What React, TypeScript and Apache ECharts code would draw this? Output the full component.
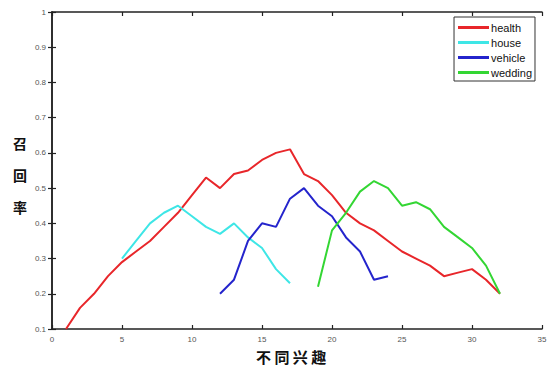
import React, { useEffect, useRef } from "react";
import * as echarts from "echarts";

const seriesNames = ["health", "house", "vehicle", "wedding"];
const seriesColors = ["#e8262a", "#3ee6e6", "#2424cc", "#33d633"];

const healthX = [1, 2, 3, 4, 5, 6, 7, 8, 9, 10, 11, 12, 13, 14, 15, 16, 17, 18, 19, 20, 21, 22, 23, 24, 25, 26, 27, 28, 29, 30, 31, 32];
const healthY = [0.1, 0.16, 0.2, 0.25, 0.29, 0.32, 0.35, 0.39, 0.43, 0.48, 0.53, 0.5, 0.54, 0.55, 0.58, 0.6, 0.61, 0.54, 0.52, 0.48, 0.43, 0.4, 0.38, 0.35, 0.32, 0.3, 0.28, 0.25, 0.26, 0.27, 0.24, 0.2];

const houseX = [5, 6, 7, 8, 9, 10, 11, 12, 13, 14, 15, 16, 17];
const houseY = [0.3, 0.35, 0.4, 0.43, 0.45, 0.42, 0.39, 0.37, 0.4, 0.36, 0.33, 0.27, 0.23];

const vehicleX = [12, 13, 14, 15, 16, 17, 18, 19, 20, 21, 22, 23, 24];
const vehicleY = [0.2, 0.24, 0.35, 0.4, 0.39, 0.47, 0.5, 0.45, 0.42, 0.36, 0.32, 0.24, 0.25];

const weddingX = [19, 20, 21, 22, 23, 24, 25, 26, 27, 28, 29, 30, 31, 32];
const weddingY = [0.22, 0.38, 0.43, 0.49, 0.52, 0.5, 0.45, 0.46, 0.44, 0.39, 0.36, 0.33, 0.28, 0.2];

const xTicks = { min: 0, max: 35, interval: 5 };
const yTicks = { min: 0.1, max: 1, interval: 0.1 };
const xAxisTitle = "不 同 兴 趣";
const yAxisTitle = ["召", "回", "率"];

function pairs(xs: number[], ys: number[]) {
  return xs.map((x, i) => [x, ys[i]]);
}

export default function App() {
  const ref = useRef<HTMLDivElement>(null);
  useEffect(() => {
    if (!ref.current) return;
    const chart = echarts.init(ref.current, undefined, { renderer: "svg" });
    const allX = [healthX, houseX, vehicleX, weddingX];
    const allY = [healthY, houseY, vehicleY, weddingY];
    const axisLine = { show: true, lineStyle: { color: "#222", width: 1.5 } };
    const tick = { show: true, inside: true, length: 4, lineStyle: { color: "#222", width: 1.2 } };
    const labelStyle = { color: "#555", fontSize: 8, fontFamily: "Arial, Liberation Sans, sans-serif" };
    chart.setOption({
      animation: false,
      backgroundColor: "#fff",
      grid: { left: 52, right: 8, top: 12, bottom: 38 },
      xAxis: [
        {
          type: "value",
          min: xTicks.min,
          max: xTicks.max,
          interval: xTicks.interval,
          axisLine,
          axisTick: tick,
          splitLine: { show: false },
          axisLabel: { ...labelStyle, margin: 6 },
        },
        {
          type: "value",
          position: "top",
          min: xTicks.min,
          max: xTicks.max,
          interval: xTicks.interval,
          axisLine,
          axisTick: tick,
          splitLine: { show: false },
          axisLabel: { show: false },
        },
      ],
      yAxis: [
        {
          type: "value",
          min: yTicks.min,
          max: yTicks.max,
          interval: yTicks.interval,
          axisLine,
          axisTick: tick,
          splitLine: { show: false },
          axisLabel: {
            ...labelStyle,
            margin: 6,
            formatter: (v: number) => String(Math.round(v * 10) / 10),
          },
        },
        {
          type: "value",
          position: "right",
          min: yTicks.min,
          max: yTicks.max,
          interval: yTicks.interval,
          axisLine,
          axisTick: tick,
          splitLine: { show: false },
          axisLabel: { show: false },
        },
      ],
      legend: {
        data: seriesNames,
        orient: "vertical",
        right: 15,
        top: 17,
        icon: "rect",
        itemWidth: 31,
        itemHeight: 3,
        itemGap: 4,
        padding: [5, 3, 3, 4],
        borderColor: "#333",
        borderWidth: 1,
        backgroundColor: "#fff",
        textStyle: { color: "#111", fontSize: 11, padding: [0, 0, 0, -3], fontFamily: "Liberation Sans Narrow, Arial, sans-serif" },
      },
      series: seriesNames.map((name, i) => ({
        name,
        type: "line",
        data: pairs(allX[i], allY[i]),
        symbol: "none",
        lineStyle: { color: seriesColors[i], width: 2 },
        itemStyle: { color: seriesColors[i] },
      })),
      graphic: [
        {
          type: "text",
          left: 256,
          top: 349,
          style: { text: xAxisTitle, fontSize: 15, fontWeight: "bold", fill: "#111", fontFamily: "Noto Sans CJK SC" },
        },
        ...yAxisTitle.map((ch, i) => ({
          type: "text",
          left: 13,
          top: 136 + i * 32,
          style: { text: ch, fontSize: 14, fontWeight: "bold", fill: "#111", fontFamily: "Noto Sans CJK SC" },
        })),
      ],
    });
    return () => chart.dispose();
  }, []);
  return <div ref={ref} style={{ width: 550, height: 367, position: "absolute", left: 0, top: 0 }} />;
}
